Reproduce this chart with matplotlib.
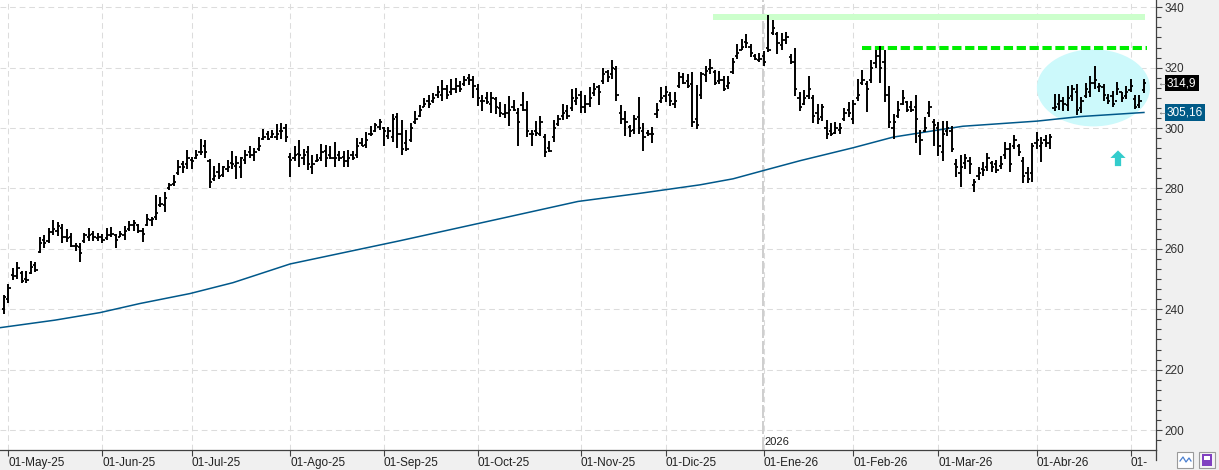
import matplotlib
matplotlib.use('Agg')
import matplotlib.pyplot as plt
import numpy as np
from matplotlib.patches import Ellipse, Polygon, Rectangle
from matplotlib.lines import Line2D
from matplotlib.ticker import MultipleLocator

plt.rcParams['font.family'] = ['Liberation Sans', 'DejaVu Sans']

# ___ Datos OHLC diarios
opens = [
    240, 243.5, 251.5, 251, 252, 250, 252, 254.5, 259, 263, 262.5, 265.5, 266,
    267, 264, 264, 261, 260.5, 262.5, 264, 265, 263.5, 264, 263.5, 264.5, 264.5,
    264, 264.5, 266.5, 268, 268, 266, 268, 269.5, 270.5, 274.5, 274.5, 280, 281.5,
    285, 288, 288, 289.5, 290, 292, 294, 289, 283, 285.5, 284.5, 286.5, 288.5,
    287.5, 287, 289.5, 292, 291, 293, 296.5, 298, 297, 297, 299, 300, 290.5,
    290, 291.5, 290, 292, 287, 289, 290, 292.5, 291, 290, 291, 290.5, 289,
    291, 291, 295, 294.5, 298, 299, 300.5, 300, 297.5, 297, 303.5, 298, 295,
    296, 302, 304, 307, 309, 309, 311, 311, 313, 312, 313, 314, 314.5,
    316.5, 316, 313, 309, 310, 308, 309.5, 306.5, 304.5, 305, 307, 305, 307.5,
    306, 298, 299, 298, 297, 293.5, 297, 301.5, 304, 305.5, 306.5, 309, 311,
    307, 308, 311.5, 313.5, 315.5, 318.5, 318, 319.5, 305, 303, 300.5, 299.5, 303.5,
    299, 298.5, 298, 304.5, 309, 310.5, 311, 308, 314, 317, 315.5, 314.5, 303,
    311, 317.5, 319.5, 318.5, 315.5, 316, 314, 318.5, 324, 326, 328.5, 327, 324,
    322.5, 324, 326.5, 331.5, 331, 327.5, 329, 323.5, 322, 310, 308, 310.5, 310,
    305, 303.5, 300, 299, 298.5, 299.5, 303, 306, 303, 310, 315, 314.5, 316,
    321.5, 324, 322, 311, 300, 304, 308, 308.5, 307, 307, 297.5, 299, 305,
    302, 300, 292, 299, 299, 288, 285, 288.5, 289, 281, 284, 286.5, 287,
    288.5, 288, 287.5, 291, 293, 294, 294, 289, 285, 285, 295, 294, 296,
    295, 306.5, 308, 309, 307.5, 310.5, 312, 306.5, 310.5, 312, 315, 313.5, 313.5,
    310, 310.5, 309, 312, 310.5, 312.5, 309.5, 307.5, 312.5]
highs = [
    244.7, 248.5, 253.8, 255.5, 252.7, 252.7, 256.0, 255.8, 263.8, 264.7, 266.9, 269.5, 268.8,
    268.2, 266.5, 265.1, 262.1, 261.8, 265.4, 266.9, 265.8, 265.1, 264.9, 266.8, 267.1, 264.9,
    265.8, 267.7, 269.3, 269.6, 268.2, 266.9, 271.7, 270.6, 277.9, 277.3, 278.7, 281.7, 284.5,
    289.4, 289.0, 292.7, 290.3, 292.7, 296.4, 296.1, 289.8, 287.6, 288.3, 287.6, 289.4, 292.3,
    290.9, 290.3, 292.8, 294.2, 293.4, 297.0, 299.7, 299.0, 299.4, 301.4, 301.6, 301.2, 291.7,
    294.2, 295.9, 293.1, 293.9, 291.2, 291.4, 294.8, 294.5, 294.2, 295.3, 292.5, 292.3, 292.8,
    292.3, 296.7, 296.7, 298.6, 300.8, 301.6, 303.0, 300.3, 300.5, 304.5, 304.9, 302.7, 299.2,
    301.6, 305.8, 307.5, 310.0, 310.8, 311.6, 313.8, 315.8, 314.1, 316.3, 316.7, 315.5, 317.4,
    318.0, 317.2, 314.6, 310.8, 311.9, 311.9, 310.2, 308.6, 308.0, 310.6, 309.4, 306.6, 312.1,
    308.8, 299.5, 302.5, 303.9, 298.1, 295.8, 302.8, 304.4, 308.0, 307.7, 312.8, 313.2, 312.4,
    311.0, 313.5, 315.0, 314.3, 319.8, 319.1, 322.4, 320.7, 307.5, 305.5, 301.0, 304.4, 310.2,
    301.7, 299.5, 300.3, 308.3, 313.5, 313.9, 312.1, 312.1, 318.5, 318.3, 318.0, 318.7, 314.1,
    318.5, 320.4, 323.0, 319.1, 318.9, 317.4, 317.1, 323.3, 327.9, 329.6, 331.0, 327.9, 324.6,
    324.8, 325.5, 337.3, 335.7, 331.8, 331.5, 331.8, 324.6, 326.6, 311.9, 312.7, 317.4, 311.1,
    308.0, 308.0, 302.7, 301.6, 301.9, 301.6, 306.7, 308.6, 309.4, 316.3, 319.3, 315.5, 322.6,
    325.9, 327.1, 325.9, 313.8, 304.5, 308.9, 312.5, 309.1, 308.9, 311.1, 299.2, 303.6, 309.1,
    303.1, 302.0, 302.5, 302.2, 300.8, 289.8, 291.1, 291.4, 290.3, 283.1, 287.0, 288.9, 291.8,
    289.2, 289.5, 290.9, 295.5, 295.1, 297.7, 294.7, 290.3, 287.0, 295.1, 298.8, 296.9, 297.7,
    298.1, 311.3, 311.3, 310.2, 313.9, 314.3, 314.6, 310.2, 315.0, 317.2, 320.5, 315.0, 314.6,
    311.3, 312.4, 315.2, 312.1, 313.9, 316.1, 310.8, 311.0, 316.3]
lows = [
    238.3, 242.2, 249.6, 250.0, 248.8, 248.8, 251.6, 252.2, 258.5, 260.2, 262.1, 264.7, 264.3,
    261.8, 262.4, 260.5, 259.3, 255.8, 261.8, 262.7, 262.7, 262.7, 261.8, 262.9, 263.8, 260.2,
    263.8, 262.9, 265.8, 266.0, 265.4, 262.4, 267.6, 267.6, 269.5, 273.7, 272.1, 279.5, 280.9,
    284.6, 285.0, 286.4, 286.4, 289.8, 291.2, 290.1, 280.1, 282.6, 283.1, 283.9, 285.3, 286.4,
    283.1, 283.5, 288.1, 290.1, 289.0, 292.5, 295.9, 296.1, 296.7, 295.9, 296.4, 295.3, 283.9,
    289.2, 287.0, 287.9, 286.1, 284.8, 288.7, 289.2, 287.0, 289.8, 287.0, 289.2, 287.0, 287.2,
    289.4, 290.1, 293.9, 293.4, 297.5, 298.6, 299.2, 294.2, 296.4, 295.3, 293.4, 291.2, 292.3,
    295.3, 301.4, 303.8, 306.9, 306.7, 308.2, 310.0, 309.1, 309.7, 310.8, 311.6, 311.9, 313.8,
    314.1, 309.9, 307.2, 305.8, 308.0, 305.0, 304.7, 303.6, 303.3, 300.8, 305.5, 294.0, 305.5,
    297.0, 294.0, 297.5, 297.3, 290.3, 292.2, 295.5, 300.8, 302.8, 303.0, 305.8, 307.5, 305.0,
    305.0, 306.9, 310.6, 307.5, 314.6, 315.4, 316.1, 309.1, 301.4, 297.5, 296.9, 298.1, 298.1,
    292.5, 297.5, 295.1, 303.3, 308.3, 308.6, 307.2, 306.6, 313.2, 314.6, 313.2, 300.3, 299.7,
    309.5, 315.2, 318.0, 314.1, 314.7, 312.2, 313.0, 317.8, 323.0, 325.7, 326.6, 323.5, 322.6,
    321.9, 320.4, 325.2, 330.7, 324.6, 325.7, 327.9, 321.3, 310.5, 305.8, 307.5, 309.7, 301.6,
    301.4, 302.5, 296.4, 297.5, 297.9, 298.1, 302.3, 303.8, 301.4, 308.9, 314.4, 305.3, 314.9,
    320.0, 314.9, 308.6, 300.1, 296.4, 303.4, 307.5, 305.3, 305.3, 295.0, 291.2, 298.6, 303.8,
    294.2, 290.9, 289.2, 297.3, 292.2, 283.7, 280.4, 286.5, 284.8, 278.9, 282.9, 284.2, 285.9,
    285.3, 285.1, 286.5, 289.8, 285.3, 292.9, 290.9, 281.8, 281.8, 282.2, 293.1, 288.6, 293.6,
    293.1, 305.5, 306.1, 305.8, 305.8, 309.1, 304.4, 305.0, 309.9, 310.2, 313.0, 312.1, 309.1,
    308.0, 306.9, 310.8, 308.6, 309.7, 311.9, 306.4, 306.6, 311.7]
closes = [
    244, 247, 251, 253.5, 249.5, 249.7, 254, 253, 262, 262, 265.6, 266.5, 267.5,
    264, 263.5, 261, 261, 258.5, 264.5, 264.5, 264, 264, 263, 264.5, 265, 263,
    265, 266, 268, 268.5, 266, 265, 270, 270, 272, 275, 277, 281, 282,
    287, 287, 290, 289, 291, 292, 292, 282, 284, 284, 287, 287, 288,
    288.5, 290, 291, 291, 292, 294, 297, 296.5, 298, 298, 299, 297, 289.5,
    291, 291, 291, 288, 288, 289.5, 292, 290, 290, 290, 290, 289, 290,
    290, 294, 294, 296, 298, 301, 302, 299, 299, 303, 298, 293, 293,
    300, 303, 306, 308, 308, 310, 312, 313, 311, 313, 314, 313, 316,
    316, 314, 310, 309, 308.5, 310, 307, 305, 305, 306, 306, 302, 306,
    299, 298, 298.5, 302, 292, 292.5, 300, 303, 305, 304, 310, 310, 307,
    308, 310, 313, 312, 318, 317, 320, 311, 303, 302, 299, 303, 300,
    297, 298, 298, 306, 310, 312, 309, 309, 317, 315, 314, 302, 301,
    318, 319, 320, 315, 316, 313, 315, 322, 325, 327, 328, 325, 323,
    323, 322, 326, 333, 328, 329, 330, 322, 313, 307, 310, 313, 304,
    303, 307, 298, 298, 300, 300, 305, 305, 308, 311, 316, 313, 320,
    324, 320, 311, 302, 302, 306, 310, 306, 306, 303, 296, 300, 307,
    301, 294, 298, 300, 293, 287, 287, 290, 288, 282, 285, 286, 290,
    287, 286, 288, 293, 288, 296, 292, 284, 283, 294, 296, 295, 295,
    297, 307, 309, 308, 310, 313, 306, 309, 313, 315, 316, 314, 311,
    309, 308, 313, 310, 312, 314, 307, 309, 314.9]

# ___ Media movil
ma_bar = [-0.9, 11.4, 21.5, 30.4, 41.6, 51.2, 64, 88.6, 111, 128.4, 142.3, 155.7,
          163.1, 169.8, 178.1, 190, 198.9, 208.3, 214.5, 231.1, 240.7, 255]
ma_val = [233.9, 236.4, 238.9, 241.9, 245.2, 248.8, 255.0, 262.7, 270.0, 275.7, 278.4, 281.2,
          283.2, 285.9, 289.2, 293.5, 297.0, 299.2, 300.6, 302.3, 303.8, 305.16]
ma_last = 305.16

# ___ Eje de fechas
month_bar = [1, 22, 42, 64, 85, 106, 129, 148, 170, 190, 209, 231, 252]
month_labels = ['01-May-25', '01-Jun-25', '01-Jul-25', '01-Ago-25', '01-Sep-25', '01-Oct-25',
                '01-Nov-25', '01-Dic-25', '01-Ene-26', '01-Feb-26', '01-Mar-26', '01-Abr-26', '01-']
year_bar = 169.7
year_label = '2026'

# ___ Lineas de resistencia
res1_level, res1_from, res1_to = 336.8, 158.6, 255.3
res2_level, res2_from, res2_to = 326.5, 191.9, 255.7

W, H = 1219, 470
fig = plt.figure(figsize=(W / 100, H / 100), dpi=100, facecolor='#f0f0f0')
ax = fig.add_axes([0, 20 / H, 1156 / W, 450 / H])
ax.set_facecolor('white')

x = np.arange(len(closes))

# grid
ax.grid(True, which='major', color='#dcdcdc', lw=0.75, linestyle=(0, (5.5, 3.7)), zorder=0)
ax.set_axisbelow(True)

# linea del anio
ax.axvline(year_bar, color='#cfcfcf', lw=1.44, linestyle=(0, (6.5, 1.5)), zorder=1)
ax.text(year_bar + 0.4, 196.0, year_label, fontsize=8, color='#202020', va='center', ha='left')

# resistencias
ax.plot([res1_from, res1_to], [res1_level, res1_level], color='#ccffcc', lw=4.3,
        solid_capstyle='butt', zorder=2)
ax.plot([res2_from, res2_to], [res2_level, res2_level], color='#00ee00', lw=2.9,
        linestyle=(0, (2.3, 0.9)), dash_capstyle='butt', zorder=2)

# zona de consolidacion
ax.add_patch(Ellipse((243.7, 313.3), 25.3, 25.5, facecolor='#ccf9fb', edgecolor='none', zorder=1.5))

# flecha
ax_c, ax_tip, ax_base, ax_bot = 249.2, 292.6, 290.1, 287.4
ax.add_patch(Polygon([[ax_c, ax_tip], [ax_c + 1.7, ax_base], [ax_c + 0.7, ax_base],
                      [ax_c + 0.7, ax_bot], [ax_c - 0.7, ax_bot], [ax_c - 0.7, ax_base],
                      [ax_c - 1.7, ax_base]], closed=True, facecolor='#33cccc',
                     edgecolor='none', zorder=3))

# media movil
ax.plot(ma_bar, ma_val, color='#00588a', lw=1.1, zorder=3)

# barras OHLC
ax.vlines(x, lows, highs, color='black', lw=1.4, zorder=4)
ax.hlines(opens, x - 0.5, x, color='black', lw=1.3, zorder=4)
ax.hlines(closes, x, x + 0.5, color='black', lw=1.3, zorder=4)

ax.set_xlim(-0.9, 257.7)
ax.set_ylim(193.4, 342.4)

for s in ['left', 'top']:
    ax.spines[s].set_visible(False)
for s in ['right', 'bottom']:
    ax.spines[s].set_color('#404040')
    ax.spines[s].set_linewidth(0.9)

ax.yaxis.tick_right()
ax.yaxis.set_major_locator(MultipleLocator(20))
ax.yaxis.set_minor_locator(MultipleLocator(20 / 6))
ax.tick_params(axis='y', which='major', direction='out', length=4, width=0.8,
               colors='#404040', labelcolor='#303030', labelsize=8.5, pad=2)
ax.tick_params(axis='y', which='minor', direction='out', length=3.5, width=0.8, colors='#404040')

ax.set_xticks(month_bar)
ax.set_xticklabels(month_labels, ha='left')
ax.tick_params(axis='x', direction='out', length=4, width=0.8, colors='#404040',
               labelcolor='#202020', labelsize=8.5, pad=1)

# etiquetas de precio
ytr = ax.get_yaxis_transform()
ax.text(1.0095, closes[-1], '314,9', transform=ytr, fontsize=8.5, color='white', va='center',
        ha='left', clip_on=False, bbox=dict(boxstyle='square,pad=0.18', fc='black', ec='none'))
ax.text(1.0095, ma_last, '305,16', transform=ytr, fontsize=8.5, color='white', va='center',
        ha='left', clip_on=False, bbox=dict(boxstyle='square,pad=0.18', fc='#005a87', ec='none'))
for v in [closes[-1], ma_last]:
    ax.text(1.001, v, '\u2190', transform=ytr, fontsize=7, color='#707070', va='center',
            ha='left', clip_on=False)

# prolongacion del eje derecho y botones
fig.add_artist(Line2D([1156 / W, 1156 / W], [10 / H, 20 / H], color='#404040', lw=0.9))
fig.add_artist(Rectangle((1177 / W, 2 / H), 16 / W, 16 / H, facecolor='white',
                         edgecolor='#9a9a9a', lw=0.8))
fig.add_artist(Line2D(np.array([1180, 1183, 1186, 1189, 1191]) / W,
                      np.array([9, 13, 8, 12, 9]) / H, color='#4a7fd0', lw=0.9))
fig.add_artist(Rectangle((1199 / W, 2 / H), 16 / W, 16 / H, facecolor='#f4f4f4',
                         edgecolor='#9a9a9a', lw=0.8))
fig.add_artist(Rectangle((1202 / W, 4 / H), 10 / W, 12 / H, facecolor='#8040c0',
                         edgecolor='none'))
fig.add_artist(Rectangle((1204 / W, 10 / H), 6 / W, 4 / H, facecolor='white', edgecolor='none'))

fig.savefig('out.png', dpi=100, facecolor=fig.get_facecolor())
